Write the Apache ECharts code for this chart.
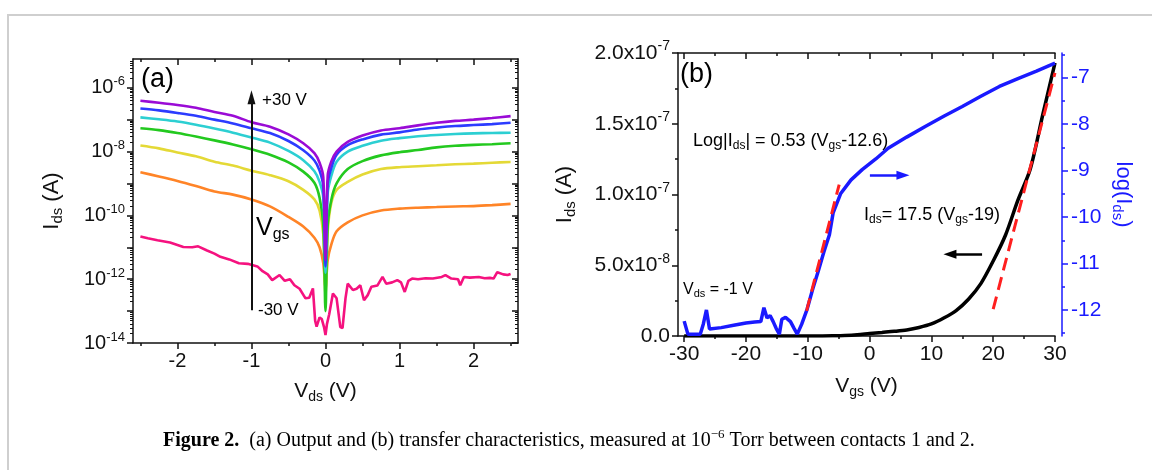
<!DOCTYPE html>
<html><head><meta charset="utf-8">
<script src="https://cdn.jsdelivr.net/npm/echarts@6/dist/echarts.min.js"></script>
<style>html,body{margin:0;padding:0;background:#fff}#c{width:1152px;height:470px}</style>
</head><body><div id="c"></div>
<script>
// ---------- Panel (a): output characteristics, log10(Ids / A) vs Vds (V) ----------
const vds = [-2.5,-2.25,-2.0,-1.75,-1.5,-1.25,-1.0,-0.75,-0.5,-0.3,-0.15,-0.08,-0.03,0,0.03,0.08,0.15,0.3,0.5,0.75,1.0,1.25,1.5,1.75,2.0,2.25,2.5];
const logIdsVgsP30 = [-6.41,-6.47,-6.54,-6.63,-6.76,-6.88,-7.08,-7.22,-7.46,-7.74,-8.05,-8.35,-8.8,-11.4,-8.75,-8.3,-8.0,-7.7,-7.5,-7.34,-7.27,-7.18,-7.1,-7.04,-7.0,-6.95,-6.89];
const logIdsVgsP20 = [-6.65,-6.71,-6.79,-6.88,-7.0,-7.12,-7.27,-7.42,-7.67,-7.96,-8.28,-8.6,-9.1,-11.6,-9.0,-8.5,-8.1,-7.8,-7.62,-7.47,-7.4,-7.31,-7.25,-7.2,-7.17,-7.14,-7.1];
const logIdsVgsP10 = [-6.93,-6.99,-7.06,-7.16,-7.28,-7.41,-7.56,-7.72,-7.98,-8.27,-8.62,-8.95,-9.45,-11.8,-9.3,-8.75,-8.32,-8.0,-7.82,-7.66,-7.58,-7.52,-7.48,-7.45,-7.43,-7.42,-7.41];
const logIdsVgs0   = [-7.27,-7.33,-7.42,-7.53,-7.65,-7.78,-7.93,-8.1,-8.34,-8.63,-8.98,-9.45,-10.3,-13.0,-10.3,-9.5,-9.0,-8.55,-8.3,-8.12,-8.02,-7.95,-7.87,-7.82,-7.79,-7.77,-7.74];
const logIdsVgsM10 = [-7.81,-7.9,-8.03,-8.15,-8.32,-8.44,-8.6,-8.74,-8.93,-9.2,-9.5,-9.85,-10.6,-12.5,-10.5,-9.6,-9.2,-8.95,-8.72,-8.55,-8.49,-8.46,-8.43,-8.4,-8.38,-8.35,-8.33];
const logIdsVgsM20 = [-8.65,-8.78,-8.92,-9.08,-9.25,-9.35,-9.5,-9.72,-10.05,-10.35,-10.7,-11.0,-11.5,-12.3,-11.4,-10.9,-10.5,-10.22,-10.0,-9.85,-9.79,-9.76,-9.74,-9.72,-9.71,-9.68,-9.64];
// Vgs = -30 V trace (noisy), its own Vds samples
const vdsM30 = [-2.5,-2.4,-2.27,-2.1,-1.92,-1.8,-1.72,-1.6,-1.5,-1.42,-1.3,-1.17,-1.05,-0.92,-0.85,-0.78,-0.72,-0.62,-0.55,-0.48,-0.42,-0.35,-0.27,-0.22,-0.17,-0.14,-0.12,-0.08,-0.05,-0.02,0,0.02,0.05,0.1,0.15,0.2,0.23,0.27,0.3,0.37,0.42,0.47,0.52,0.57,0.62,0.7,0.77,0.82,0.9,0.97,1.02,1.07,1.12,1.17,1.25,1.35,1.45,1.57,1.62,1.7,1.79,1.82,1.87,1.95,2.07,2.15,2.22,2.27,2.32,2.4,2.46,2.5];
const logIdsVgsM30 = [-10.66,-10.72,-10.78,-10.85,-10.99,-11.0,-10.97,-11.1,-11.2,-11.3,-11.38,-11.5,-11.52,-11.6,-11.75,-11.85,-12.03,-11.87,-12.05,-12.0,-12.19,-12.3,-12.6,-12.58,-12.29,-13.3,-13.49,-13.2,-13.25,-13.5,-13.75,-13.4,-13.1,-12.45,-12.6,-13.5,-13.53,-12.6,-12.14,-12.34,-12.3,-12.19,-12.66,-12.5,-12.24,-12.2,-11.93,-12.14,-12.1,-12.03,-12.1,-12.4,-12.05,-11.98,-12.0,-11.97,-11.98,-11.93,-11.87,-11.98,-12.0,-12.19,-11.93,-11.95,-11.93,-11.97,-11.96,-11.98,-11.78,-11.85,-11.87,-11.84];
const aXTicks = [-2,-1,0,1,2];
const aXMinor = [-2.5,-1.5,-0.5,0.5,1.5,2.5];
const aYTicks = [-14,-13,-12,-11,-10,-9,-8,-7,-6];
const aYLabels = [-14,-12,-10,-8,-6];
const aArrow = {vds: -1, from: -12.97, to: -6.3};

// ---------- Panel (b): transfer characteristics ----------
const vgsLin = [-30,-28,-26,-24,-22,-20,-18,-16,-14,-12,-10,-8,-6,-4,-2,0,2,4,6,8,10,12,14,16,18,20,22,24,26,28,30];
const idsLin = [0,0,0,0,0,0,0,0,0,0,0,0,1e-10,3e-10,8e-10,1.7e-9,2.5e-9,3.3e-9,4.3e-9,6.0e-9,8.5e-9,1.27e-8,1.8e-8,2.6e-8,3.7e-8,5.3e-8,7.14e-8,9.6e-8,1.18e-7,1.56e-7,1.93e-7];
const vgsLog = [-30,-29.4,-28.5,-27.4,-26.9,-26.4,-25.9,-24,-22,-20,-18.6,-17.6,-17.1,-16.6,-16.1,-15.6,-15.1,-14.6,-14.2,-13.6,-12.8,-12.2,-11.7,-11.0,-10.1,-9.2,-8.3,-7.4,-6.5,-5.9,-4.7,-3,-1.2,1,3,6,9,12,15,18,21,24,27,30];
const logIds = [-12.24,-12.52,-12.52,-12.52,-12.3,-12.0,-12.41,-12.38,-12.33,-12.28,-12.26,-12.25,-11.95,-12.17,-12.12,-12.25,-12.4,-12.52,-12.2,-12.16,-12.25,-12.4,-12.52,-12.31,-11.98,-11.55,-11.16,-10.75,-10.38,-9.91,-9.5,-9.2,-8.98,-8.75,-8.52,-8.28,-8.05,-7.83,-7.62,-7.4,-7.19,-7.02,-6.86,-6.69];
const fitLinV = [20, 30];
const fitLinI = [1.9e-8, 1.86e-7];
const fitLogV = [-10.2, -4.92];
const fitLogY = [-12.02, -9.3];
const bXTicks = [-30,-20,-10,0,10,20,30];
const bXMinor = [-25,-15,-5,5,15,25];
const bRTicks = [-12,-11,-10,-9,-8,-7];
const bRMinor = [-12.5,-11.5,-10.5,-9.5,-8.5,-7.5,-6.5];
const blueArrow = {from: [0.05, -9.1], to: [5.4, -9.1]};
const blackArrow = {from: [18.2, 5.77e-8], to: [13.0, 5.77e-8]};

const zip = (a, b) => a.map((v, i) => [v, b[i]]);
const aYMinor = [];
for (let n = -14; n <= -6; n++) for (let k = 2; k <= 9; k++) { const v = n + Math.log10(k); if (v < -5.1) aYMinor.push(v); }

const FONT = "'Liberation Sans', Arial, sans-serif";
const BLK = '#111';
const BLUE = '#1a1aff';
const RED = '#ff1f1f';

function richSet(size, color) {
  return {
    m: {fontSize: size, fontFamily: FONT, color},
    s: {fontSize: Math.round(size * 0.68), fontFamily: FONT, color, padding: [Math.round(size*0.5), 0, 0, 0]},
    b: {fontSize: size, fontFamily: FONT, color},
    p: {fontSize: Math.round(size * 0.65), fontFamily: FONT, color, padding: [0, 0, Math.round(size*0.6), 0]}
  };
}

function tickOnly(extra) {
  return Object.assign({type: 'value', axisLine: {show: false, onZero: false}, axisLabel: {show: false}, splitLine: {show: false}}, extra);
}
const lineBlk = {color: BLK, width: 1.5};

const xAxis = [
  // panel a
  {gridIndex: 0, type: 'value', min: -2.6, max: 2.6, position: 'bottom',
   axisLine: {show: true, onZero: false, lineStyle: lineBlk},
   axisTick: {show: true, customValues: aXTicks, length: 6, lineStyle: lineBlk},
   axisLabel: {customValues: aXTicks, formatter: v => String(v), fontSize: 20, fontFamily: FONT, color: BLK, margin: 8},
   splitLine: {show: false},
   name: '{m|V}{s|ds}{m| (V)}', nameLocation: 'middle', nameGap: 36,
   nameTextStyle: {rich: richSet(21, BLK)}},
  tickOnly({gridIndex: 0, min: -2.6, max: 2.6, position: 'bottom', axisTick: {show: true, customValues: aXMinor, length: 3, lineStyle: lineBlk}}),
  {gridIndex: 0, type: 'value', min: -2.6, max: 2.6, position: 'top',
   axisLine: {show: true, onZero: false, lineStyle: lineBlk},
   axisTick: {show: true, inside: true, customValues: aXTicks, length: 6, lineStyle: lineBlk},
   axisLabel: {show: false}, splitLine: {show: false}},
  tickOnly({gridIndex: 0, min: -2.6, max: 2.6, position: 'top', axisTick: {show: true, inside: true, customValues: aXMinor, length: 3, lineStyle: lineBlk}}),
  // panel b
  {gridIndex: 1, type: 'value', min: -31, max: 30, position: 'bottom',
   axisLine: {show: true, onZero: false, lineStyle: lineBlk},
   axisTick: {show: true, customValues: bXTicks, length: 6, lineStyle: lineBlk},
   axisLabel: {customValues: bXTicks, formatter: v => String(v), fontSize: 21, fontFamily: FONT, color: BLK, margin: 8},
   splitLine: {show: false},
   name: '{m|V}{s|gs}{m| (V)}', nameLocation: 'middle', nameGap: 38,
   nameTextStyle: {rich: richSet(21, BLK)}},
  tickOnly({gridIndex: 1, min: -31, max: 30, position: 'bottom', axisTick: {show: true, customValues: bXMinor, length: 3, lineStyle: lineBlk}}),
  {gridIndex: 1, type: 'value', min: -31, max: 30, position: 'top',
   axisLine: {show: true, onZero: false, lineStyle: lineBlk},
   axisTick: {show: true, inside: true, customValues: bXTicks, length: 6, lineStyle: lineBlk},
   axisLabel: {show: false}, splitLine: {show: false}},
  tickOnly({gridIndex: 1, min: -31, max: 30, position: 'top', axisTick: {show: true, inside: true, customValues: bXMinor, length: 3, lineStyle: lineBlk}})
];

const yAxis = [
  // panel a (values are log10 of current)
  {gridIndex: 0, type: 'value', min: -14, max: -5.1, position: 'left',
   axisLine: {show: true, onZero: false, lineStyle: lineBlk},
   axisTick: {show: true, customValues: aYTicks, length: 6, lineStyle: lineBlk},
   axisLabel: {customValues: aYLabels, formatter: v => '{b|10}{p|' + v + '}', margin: 8, rich: richSet(20, BLK)},
   splitLine: {show: false},
   name: '{m|I}{s|ds}{m| (A)}', nameLocation: 'middle', nameRotate: 90, nameGap: 68,
   nameTextStyle: {rich: richSet(22, BLK)}},
  tickOnly({gridIndex: 0, min: -14, max: -5.1, position: 'left', axisTick: {show: true, customValues: aYMinor, length: 3, lineStyle: {color: BLK, width: 1}}}),
  {gridIndex: 0, type: 'value', min: -14, max: -5.1, position: 'right',
   axisLine: {show: true, onZero: false, lineStyle: lineBlk},
   axisTick: {show: true, inside: true, customValues: aYTicks, length: 6, lineStyle: lineBlk},
   axisLabel: {show: false}, splitLine: {show: false}},
  tickOnly({gridIndex: 0, min: -14, max: -5.1, position: 'right', axisTick: {show: true, inside: true, customValues: aYMinor, length: 3, lineStyle: {color: BLK, width: 1}}}),
  // panel b left (linear current)
  {gridIndex: 1, type: 'value', min: 0, max: 2e-7, interval: 5e-8, position: 'left',
   axisLine: {show: true, onZero: false, lineStyle: lineBlk},
   axisTick: {show: true, length: 6, lineStyle: lineBlk},
   minorTick: {show: true, splitNumber: 2, length: 3, lineStyle: lineBlk},
   axisLabel: {margin: 8, rich: richSet(21, BLK), formatter: v => {
     if (Math.abs(v) < 1e-12) return '{b|0.0}';
     const e = Math.floor(Math.log10(v) + 1e-9);
     return '{b|' + (v / Math.pow(10, e)).toFixed(1) + 'x10}{p|' + e + '}';
   }},
   splitLine: {show: false},
   name: '{m|I}{s|ds}{m| (A)}', nameLocation: 'middle', nameRotate: 90, nameGap: 100,
   nameTextStyle: {rich: richSet(22, BLK)}},
  // panel b right (log10 current)
  {gridIndex: 1, type: 'value', min: -12.56, max: -6.47, position: 'right', offset: 7,
   axisLine: {show: true, onZero: false, lineStyle: {color: BLUE, width: 1.5}},
   axisTick: {show: true, customValues: bRTicks, length: 6, lineStyle: {color: BLUE, width: 1.5}},
   axisLabel: {customValues: bRTicks, formatter: v => String(v), fontSize: 21, fontFamily: FONT, color: BLUE, margin: 9},
   splitLine: {show: false},
   name: '{m|log(I}{s|ds}{m|)}', nameLocation: 'middle', nameRotate: -90, nameGap: 48,
   nameTextStyle: {rich: richSet(22, BLUE)}},
  tickOnly({gridIndex: 1, min: -12.56, max: -6.47, position: 'right', offset: 7, axisTick: {show: true, customValues: bRMinor, length: 3, lineStyle: {color: BLUE, width: 1.5}}})
];

function curve(name, x, y, color, smooth) {
  return {name, type: 'line', xAxisIndex: 0, yAxisIndex: 0, data: zip(x, y), showSymbol: false, symbol: 'none',
          smooth: smooth, lineStyle: {color, width: 2.6}, clip: true};
}

function arrowLine(from, to, color, width, headSize) {
  return {
    silent: true, animation: false, label: {show: false},
    lineStyle: {color, width, type: 'solid'},
    data: [[{coord: from, symbol: 'none'}, {coord: to, symbol: 'triangle', symbolSize: headSize}]]
  };
}

const series = [
  curve('Vgs = -30 V', vdsM30, logIdsVgsM30, '#f5127f', false),
  curve('Vgs = -20 V', vds, logIdsVgsM20, '#ff8427', 0.3),
  curve('Vgs = -10 V', vds, logIdsVgsM10, '#e4d936', 0.3),
  curve('Vgs = 0 V', vds, logIdsVgs0, '#23c91f', 0.3),
  curve('Vgs = +10 V', vds, logIdsVgsP10, '#2ccfd2', 0.3),
  curve('Vgs = +20 V', vds, logIdsVgsP20, '#2c3cff', 0.3),
  curve('Vgs = +30 V', vds, logIdsVgsP30, '#9a0bd6', 0.3),
  {name: 'arrowA', type: 'line', xAxisIndex: 0, yAxisIndex: 0, data: [],
   markLine: arrowLine([aArrow.vds, aArrow.from], [aArrow.vds, aArrow.to], BLK, 2, [8, 14])},
  // panel b
  {name: 'Ids linear', type: 'line', xAxisIndex: 4, yAxisIndex: 4, data: zip(vgsLin, idsLin), showSymbol: false, symbol: 'none',
   smooth: 0.3, lineStyle: {color: '#000', width: 3.5},
   markLine: arrowLine(blackArrow.from, blackArrow.to, '#000', 2.5, [9, 13])},
  {name: 'log Ids', type: 'line', xAxisIndex: 4, yAxisIndex: 5, data: zip(vgsLog, logIds), showSymbol: false, symbol: 'none',
   lineStyle: {color: BLUE, width: 3.5}, clip: true,
   markLine: arrowLine(blueArrow.from, blueArrow.to, BLUE, 2.5, [9, 13])},
  {name: 'fit linear', type: 'line', xAxisIndex: 4, yAxisIndex: 4, data: zip(fitLinV, fitLinI), showSymbol: false, symbol: 'none',
   lineStyle: {color: RED, width: 3, type: [13, 7]}},
  {name: 'fit log', type: 'line', xAxisIndex: 4, yAxisIndex: 5, data: zip(fitLogV, fitLogY), showSymbol: false, symbol: 'none',
   lineStyle: {color: RED, width: 3, type: [13, 7]}}
];

const SERIF = "'Liberation Serif', 'DejaVu Serif', serif";
function txt(x, y, text, rich, align) {
  return {type: 'text', x, y, silent: true, style: {text, rich, textAlign: align || 'left', align: align || 'left', textVerticalAlign: 'middle', verticalAlign: 'middle'}};
}

const graphic = [
  {type: 'rect', shape: {x: 8, y: 15, width: 1300, height: 600}, style: {fill: 'none', stroke: '#cfcfcf', lineWidth: 2}, silent: true},
  txt(141, 80, '{m|(a)}', richSet(27, BLK)),
  txt(262, 100, '{m|+30 V}', richSet(17, BLK)),
  txt(256, 228, '{m|V}{s|gs}', {m: {fontSize: 25, fontFamily: FONT, color: BLK}, s: {fontSize: 16, fontFamily: FONT, color: BLK, padding: [14, 0, 0, 0]}}),
  txt(258, 310, '{m|-30 V}', richSet(17, BLK)),
  txt(680, 75, '{m|(b)}', richSet(27, BLK)),
  txt(693, 141, '{m|Log|I}{s|ds}{m|| = 0.53 (V}{s|gs}{m|-12.6)}', richSet(18, BLUE)),
  txt(864, 215, '{m|I}{s|ds}{m|= 17.5 (V}{s|gs}{m|-19)}', richSet(18, BLK)),
  txt(683, 290, '{m|V}{s|ds}{m| = -1 V}', richSet(16, BLK)),
  {type: 'text', x: 163, y: 441, silent: true, style: {
    text: '{fb|Figure 2.}{fn|  (a) Output and (b) transfer characteristics, measured at 10}{fs|\u22126}{fn| Torr between contacts 1 and 2.}',
    textVerticalAlign: 'middle', verticalAlign: 'middle',
    rich: {
      fb: {fontFamily: SERIF, fontSize: 20, fontWeight: 'bold', color: '#231f20'},
      fn: {fontFamily: SERIF, fontSize: 20, color: '#231f20'},
      fs: {fontFamily: SERIF, fontSize: 13, color: '#231f20', padding: [0, 0, 13, 0]}
    }}}
];

const chart = echarts.init(document.getElementById('c'), null, {renderer: 'canvas'});
chart.setOption({
  animation: false,
  backgroundColor: '#fff',
  grid: [
    {left: 133, top: 59, width: 385, height: 284, containLabel: false},
    {left: 678, top: 53, width: 377, height: 283, containLabel: false}
  ],
  xAxis, yAxis, series, graphic
});
</script></body></html>
